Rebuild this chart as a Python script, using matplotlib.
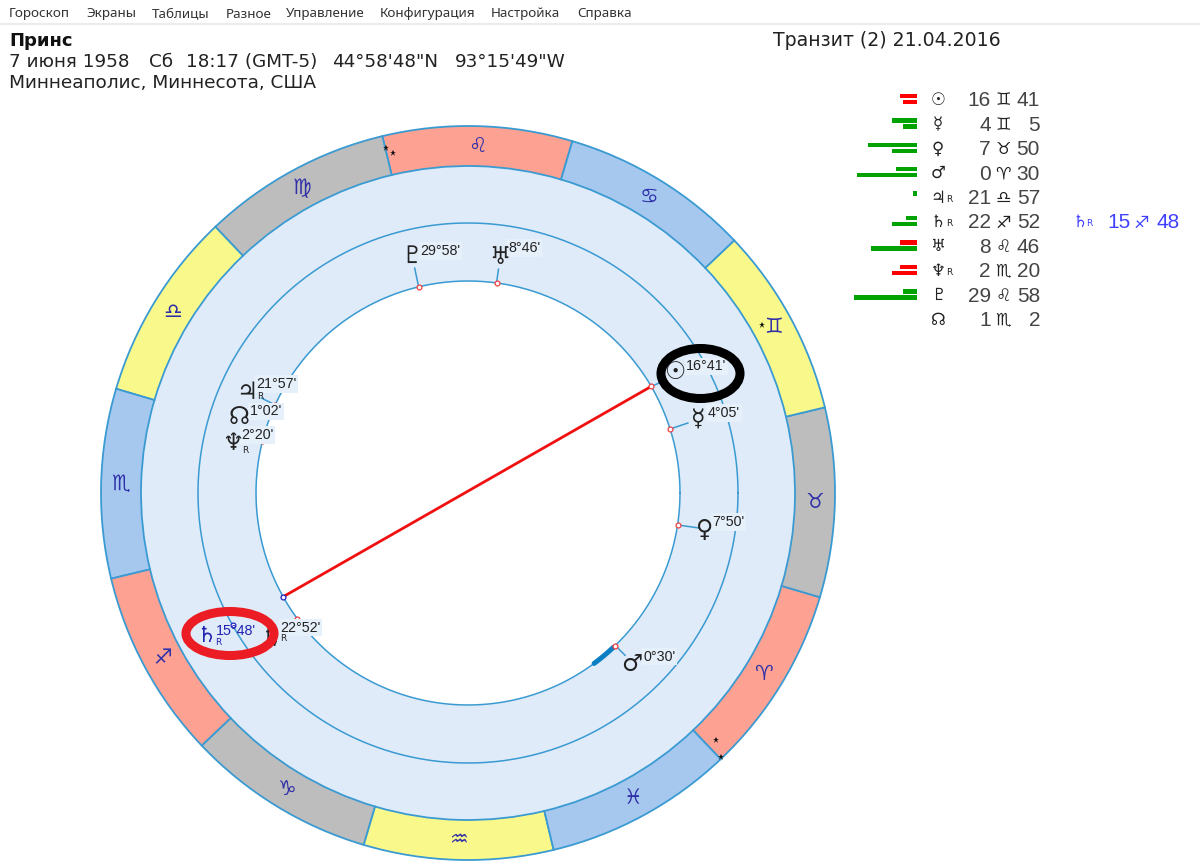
# %%
import numpy as np
from matplotlib import pyplot as plt
from matplotlib.patches import Ellipse

# ---- данные ----
menu_items = ['Гороскоп', 'Экраны', 'Таблицы', 'Разное', 'Управление', 'Конфигурация', 'Настройка', 'Справка']
signs = ['♈', '♉', '♊', '♋', '♌', '♍', '♎', '♏', '♐', '♑', '♒', '♓']
sign_fill = ['red', 'gray', 'yellow', 'blue'] * 3

planet_glyphs = ['☉', '☿', '♀', '♂', '♃', '♄', '♅', '♆', '♇', '☊']
retrograde = [False, False, False, False, True, True, False, True, False, False]
planet_sign = [2, 2, 1, 0, 6, 8, 4, 7, 4, 7]
planet_deg = [16, 4, 7, 0, 21, 22, 8, 2, 29, 1]
planet_min = [41, 5, 50, 30, 57, 52, 46, 20, 58, 2]

transit_glyph = '♄'
transit_sign = 8
transit_deg = 15
transit_min = 48

bar_top = [17, 25, 49, 21, 4, 11, 17, 17, 14, 0]
bar_bottom = [14, 14, 25, 60, 0, 25, 46, 25, 63, 0]
bar_top_color = ['r', 'g', 'g', 'g', 'g', 'g', 'r', 'r', 'g', 'g']
bar_bottom_color = ['r', 'g', 'g', 'g', 'g', 'g', 'g', 'r', 'g', 'g']

star_lon = [149.9, 148.9, 76.2, 1.6, 0.3]
star_r = [355, 348, 339, 350, 366]

# ---- оформление ----
W, H = 1200, 867
CX, CY = 468, 493
R_OUT, R_BAND, R_MID, R_IN = 367, 327, 270, 212
R_MAX = 372
LINE = '#3a9ad2'
BAND = '#dfebf9'
FILLS = {'red': '#fda193', 'gray': '#bdbdbd', 'yellow': '#f9f98b', 'blue': '#a6c8ef'}
BAR_COLORS = {'r': '#ff0000', 'g': '#00a300'}
TEXT = '#222222'
SYM = ['DejaVu Sans']
LABEL = ['Liberation Sans']
ROT = -46.5  # экранный угол 0° Овна

# сдвиги подписей от точки на круге, пиксели: (выноска), (знак), (текст), (R)
placement = {
    0: ((14, 6), (24, 14), (35, 20), None),
    1: ((18, 6), (28, 10), (38, 16), None),
    2: ((21, -3), (27, -5), (35, 3), None),
    3: ((10, -10), (16, -18), (28, -11), None),
    4: ((-14, 7), (-28, 13), (-19, 21), (-15, 8)),
    5: ((-14, -9), (-26, -20), (-17, -9), (-14, -20)),
    6: ((2, 14), (3, 26), (12, 35), None),
    7: ((-12, 5), (-30, -2), (-21, 6), (-17, -9)),
    8: ((-4, 19), (-7, 31), (2, 36), None),
    9: ((-17, 7), (-25, 19), (-14, 25), None),
}


def lon(sign, deg, minute):
    return sign * 30 + deg + minute / 60


def theta(longitude):
    return np.deg2rad(np.asarray(longitude) + ROT)


plt.rcParams['font.family'] = ['DejaVu Sans']
fig = plt.figure(figsize=(W / 100, H / 100), dpi=100, facecolor='white')

# %% колесо
ax = fig.add_axes([(CX - R_MAX) / W, 1 - (CY + R_MAX) / H, 2 * R_MAX / W, 2 * R_MAX / H], projection='polar')
ax.set_axis_off()
ax.set_ylim(0, R_MAX)

circle = np.linspace(0, 2 * np.pi, 721)
ax.fill_between(circle, R_IN, R_BAND, color=BAND, lw=0, zorder=1)
ax.bar(theta(np.arange(12) * 30), R_OUT - R_BAND, width=np.deg2rad(30), bottom=R_BAND, align='edge',
       color=[FILLS[f] for f in sign_fill], edgecolor=LINE, linewidth=1.3, zorder=2)
for r in (R_IN, R_MID):
    ax.plot(circle, np.full_like(circle, r), color=LINE, lw=1.1, zorder=3)

for i, s in enumerate(signs):
    ax.text(theta(i * 30 + 15), (R_OUT + R_BAND) / 2, s, family=SYM, fontsize=15, color='#2f2fa8',
            ha='center', va='center', zorder=4)

# звёздочки у границ знаков
ax.plot(theta(star_lon), star_r, '*', ms=4.5, color='#111111', mew=0, zorder=5)

# %% планеты
lons = [lon(s, d, m) for s, d, m in zip(planet_sign, planet_deg, planet_min)]
for i, (gl, retro, d, m) in enumerate(zip(planet_glyphs, retrograde, planet_deg, planet_min)):
    t = theta(lons[i])
    lead, glyph_off, label_off, r_off = placement[i]
    ax.annotate('', xy=(t, R_IN), xytext=lead, textcoords='offset pixels', zorder=6,
                arrowprops=dict(arrowstyle='-', color=LINE, lw=1.1, shrinkA=0, shrinkB=0))
    ax.plot([t], [R_IN], 'o', ms=3.5, mfc='white', mec='#f04040', mew=0.9, zorder=7)
    ax.annotate(f"{d}°{m:02d}'", xy=(t, R_IN), xytext=label_off, textcoords='offset pixels', family=LABEL,
                fontsize=10.3, color=TEXT, va='center', ha='left', zorder=8,
                bbox=dict(fc='#e6f0fb', ec='none', pad=1.2))
    ax.annotate(gl, xy=(t, R_IN), xytext=glyph_off, textcoords='offset pixels', family=SYM,
                fontsize=17, color=TEXT, va='center', ha='center', zorder=9)
    if retro:
        ax.annotate('R', xy=(t, R_IN), xytext=r_off, textcoords='offset pixels',
                    fontsize=6.5, color=TEXT, va='center', ha='center', zorder=9)

# транзитный Сатурн и оппозиция к Солнцу
t_sat = theta(lon(transit_sign, transit_deg, transit_min))
ax.plot([theta(lons[0]), t_sat], [R_IN, R_IN], color='#f01010', lw=2, zorder=5)
ax.plot([t_sat], [R_IN], 'o', ms=3.5, mfc='white', mec='#2020c0', mew=0.9, zorder=7)
ax.plot([t_sat], [R_MID], 'o', ms=3.5, mfc='white', mec='#2020c0', mew=0.9, zorder=7)
ax.annotate(f"{transit_deg}°{transit_min}'", xy=(t_sat, R_MID), xytext=(-17, -6), textcoords='offset pixels',
            family=LABEL, fontsize=10.3, color='#2020b0', va='center', ha='left', zorder=8)
ax.annotate(transit_glyph, xy=(t_sat, R_MID), xytext=(-26, -11), textcoords='offset pixels', family=SYM,
            fontsize=16, color='#2020b0', va='center', ha='center', zorder=8)
ax.annotate('R', xy=(t_sat, R_MID), xytext=(-14, -17), textcoords='offset pixels',
            fontsize=6.5, color='#2020b0', va='center', ha='center', zorder=8)

# дуга орбиса у Марса
arc = theta(np.linspace(lons[3] - 7.5, lons[3] - 0.7, 20))
ax.plot(arc, np.full_like(arc, R_IN), color='#0b7fc4', lw=3.6, solid_capstyle='round', zorder=6)

# %% шапка и таблица в пикселях картинки
top = fig.add_axes([0, 0, 1, 1], facecolor='none')
top.set_xlim(0, W)
top.set_ylim(H, 0)
top.set_axis_off()

menu_x = [9, 86, 152, 226, 286, 380, 491, 577]
for x, item in zip(menu_x, menu_items):
    top.text(x, 17.5, item, fontsize=9.7, color='#333333', family=['Noto Sans'], va='baseline', ha='left')
top.plot([0, W], [24, 24], color='#ececec', lw=1.5)

top.text(9, 46, 'Принс', fontsize=13, fontweight='bold', color='#111111', va='baseline')
line2_x = [9, 149, 186, 332, 455]
line2 = ['7 июня 1958', 'Сб', '18:17 (GMT-5)', "44°58'48\"N", "93°15'49\"W"]
for x, part in zip(line2_x, line2):
    top.text(x, 67, part, fontsize=13.2, color=TEXT, va='baseline')
top.text(9, 88, 'Миннеаполис, Миннесота, США', fontsize=13.3, color=TEXT, va='baseline')
top.text(773, 46, 'Транзит (2) 21.04.2016', fontsize=13.6, color=TEXT, va='baseline')

rows = 99 + 24.4 * np.arange(len(planet_glyphs))
top.barh(rows - 3, -np.array(bar_top), left=917, height=4.6, color=[BAR_COLORS[c] for c in bar_top_color])
top.barh(rows + 3, -np.array(bar_bottom), left=917, height=4.6, color=[BAR_COLORS[c] for c in bar_bottom_color])
for i, y in enumerate(rows):
    top.text(938, y + 1, planet_glyphs[i], family=SYM, fontsize=12, color=TEXT, ha='center', va='center')
    if retrograde[i]:
        top.text(949, y + 3, 'R', fontsize=6.5, color=TEXT, ha='center', va='center')
    top.text(991, y + 7.5, str(planet_deg[i]), fontsize=15, color='#444444', ha='right', va='baseline', family=LABEL)
    top.text(1003, y + 1.5, signs[planet_sign[i]], family=SYM, fontsize=12.5, color=TEXT, ha='center', va='center')
    top.text(1040, y + 7.5, str(planet_min[i]), fontsize=15, color='#444444', ha='right', va='baseline', family=LABEL)

sat_y = rows[5]
BLUE = '#4040ff'
top.text(1080, sat_y + 1, transit_glyph, family=SYM, fontsize=12, color=BLUE, ha='center', va='center')
top.text(1089, sat_y + 3, 'R', fontsize=6.5, color=BLUE, ha='center', va='center')
top.text(1131, sat_y + 7.5, str(transit_deg), fontsize=15, color=BLUE, ha='right', va='baseline', family=LABEL)
top.text(1141, sat_y + 1.5, signs[transit_sign], family=SYM, fontsize=12.5, color=BLUE, ha='center', va='center')
top.text(1180, sat_y + 7.5, str(transit_min), fontsize=15, color=BLUE, ha='right', va='baseline', family=LABEL)

# обводки от руки
top.add_patch(Ellipse((700.5, 373.5), 79, 50, fill=False, ec='black', lw=6.5))
top.add_patch(Ellipse((230, 633.5), 88, 44, fill=False, ec='#ec1c24', lw=6.5))

fig.savefig('out.png', dpi=100)
